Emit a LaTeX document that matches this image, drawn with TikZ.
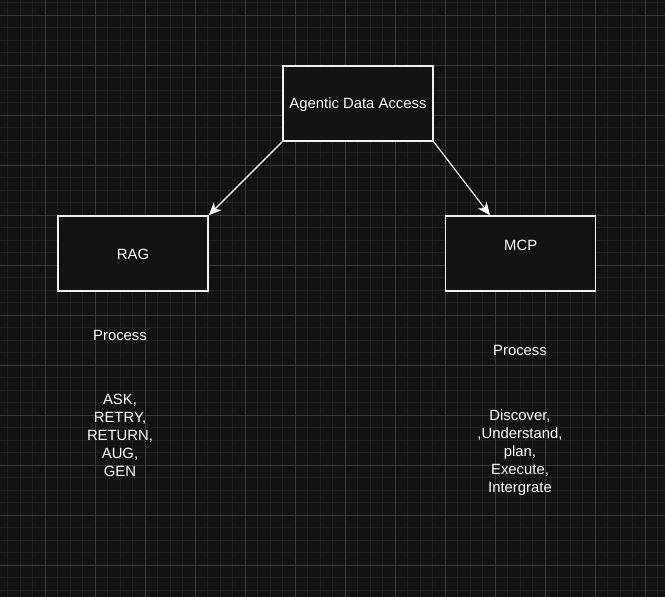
\documentclass[tikz,border=0pt]{standalone}
\usepackage{fontspec}
\setmainfont{Liberation Sans}
\usetikzlibrary{arrows.meta,calc}
\definecolor{bgc}{HTML}{121212}
\definecolor{minorc}{HTML}{1E1E1E}
\definecolor{majorc}{HTML}{383838}
\definecolor{edgec}{HTML}{F0F0F0}
\tikzset{
  box/.style={draw=edgec, line width=1.3pt, fill=bgc, minimum width=150pt, minimum height=75pt, inner sep=0pt},
  txt/.style={text=white, font=\fontsize{14.85}{18}\selectfont, align=center, inner sep=0pt},
  conn/.style={draw=white, line width=1.1pt, -{Stealth[length=13pt,width=11pt,inset=4pt]}},
}
\begin{document}
\begin{tikzpicture}[x=1pt,y=-1pt]
\fill[bgc] (0,0) rectangle (665,597);
\useasboundingbox (0,0) rectangle (665,597);
% minor grid
\foreach \i in {0,...,53} {
  \draw[minorc, line width=1pt] ({7.8+12.5*\i},0) -- ({7.8+12.5*\i},597);
}
\foreach \i in {0,...,47} {
  \draw[minorc, line width=1pt] (0,{2.8+12.5*\i}) -- (665,{2.8+12.5*\i});
}
% major grid
\foreach \i in {0,...,12} {
  \draw[majorc, line width=1pt] ({45.3+50*\i},0) -- ({45.3+50*\i},597);
}
\foreach \i in {0,...,11} {
  \draw[majorc, line width=1pt] (0,{15.3+50*\i}) -- (665,{15.3+50*\i});
}
% boxes
\node[box] (top) at (358,103.5) {};
\node[txt] (toplabel) at (358,104.5) {Agentic Data Access};
\node[box] (rag) at (133,253.5) {};
\node[txt] (raglabel) at (133,254) {RAG};
\node[box] (mcp) at (520.7,253.5) {};
\node[txt] (mcplabel) at (520.7,245) {MCP};
% arrows
\coordinate (mcptip) at ($(mcp.north west)+(45,0)$);
\draw[conn] (top.south west) -- (rag.north east);
\draw[conn] (top.south east) -- (mcptip);
% texts
\node[txt] (ragproc) at (120,335.5) {Process};
\node[txt, anchor=north] (ragsteps) at (120,393.5) {ASK,\\RETRY,\\RETURN,\\AUG,\\GEN};
\node[txt] (mcpproc) at (520,350.5) {Process};
\node[txt, anchor=north] (mcpsteps) at (520,409.5) {Discover,\\,Understand,\\plan,\\Execute,\\Intergrate};
\end{tikzpicture}
\end{document}
